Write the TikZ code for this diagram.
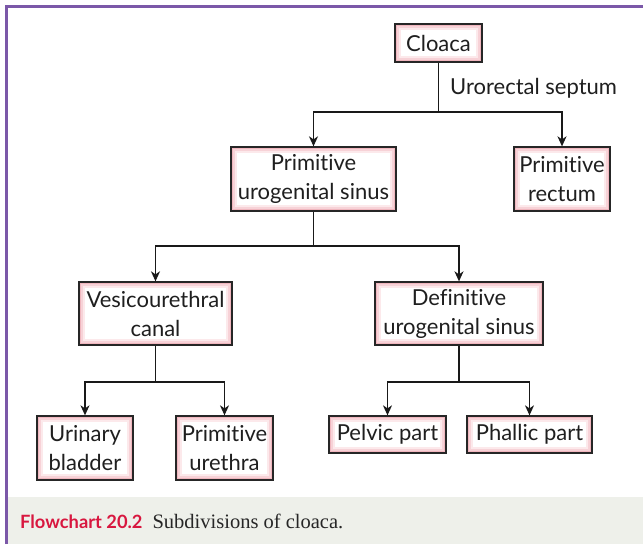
\documentclass[tikz,border=0pt]{standalone}
\usepackage{fontspec}
\setmainfont{Liberation Serif}
\newfontfamily\boxfont[Ligatures=NoCommon]{Lato}
\usetikzlibrary{arrows.meta}
\definecolor{pinkA}{HTML}{F0B6BE}
\definecolor{pinkB}{HTML}{F7D2D7}
\definecolor{pinkC}{HTML}{FCE9EB}
\definecolor{frame}{HTML}{7B58A8}
\definecolor{capbg}{HTML}{EEF0EA}
\definecolor{capred}{HTML}{D8173F}
\tikzset{
  flowbox/.style={draw=black!85, line width=1.3pt, fill=pinkA, inner sep=0pt,
    align=center, font=\boxfont\fontsize{22}{29}\selectfont, text=black!88,
    path picture={
      \fill[pinkB] ([shift={(2pt,-2pt)}]path picture bounding box.north west) rectangle ([shift={(-2pt,2pt)}]path picture bounding box.south east);
      \fill[pinkC] ([shift={(4pt,-4pt)}]path picture bounding box.north west) rectangle ([shift={(-4pt,4pt)}]path picture bounding box.south east);
      \fill[white] ([shift={(6pt,-6pt)}]path picture bounding box.north west) rectangle ([shift={(-6pt,6pt)}]path picture bounding box.south east);
    }},
  conn/.style={line width=1.3pt, black!90},
  arr/.style={conn, -{Stealth[length=10pt,width=9pt,inset=3pt]}}
}
\begin{document}
\begin{tikzpicture}[x=1pt,y=-1pt]
\useasboundingbox (0,0) rectangle (643,544);
\fill[white] (0,0) rectangle (643,544);
\fill[capbg] (8,497) rectangle (643,544);
\draw[frame, line width=3pt] (6.5,544) -- (6.5,6.5) -- (643,6.5);
% nodes
\node[flowbox, minimum width=87pt, minimum height=38pt] (cloaca) at (438.5,43) {Cloaca};
\node[flowbox, minimum width=165pt, minimum height=64pt] (pus) at (313.5,179) {Primitive\\urogenital sinus};
\node[flowbox, minimum width=96pt, minimum height=64pt] (rect) at (562,179) {Primitive\\rectum};
\node[flowbox, minimum width=153pt, minimum height=63pt] (vc) at (155.5,313.5) {Vesicourethral\\canal};
\node[flowbox, minimum width=168pt, minimum height=63pt] (dus) at (459,313.5) {Definitive\\urogenital sinus};
\node[flowbox, minimum width=96pt, minimum height=64pt] (ub) at (85,448) {Urinary\\bladder};
\node[flowbox, minimum width=97pt, minimum height=64pt] (pu) at (224.5,448) {Primitive\\urethra};
\node[flowbox, minimum width=117pt, minimum height=37pt] (pelvic) at (387.5,434.5) {Pelvic part};
\node[flowbox, minimum width=125pt, minimum height=37pt] (phallic) at (529.5,434.5) {Phallic part};
\node[anchor=west, font=\boxfont\fontsize{22}{29}\selectfont, text=black!88, inner sep=0pt] (uro) at (450,88) {Urorectal septum};
% connectors
\draw[conn] (cloaca.south) -- (cloaca.south |- 0,112) coordinate (j1);
\draw[arr] (j1) -| (pus.north);
\draw[arr] (j1) -| (rect.north);
\draw[conn] (pus.south) -- (pus.south |- 0,246) coordinate (j2);
\draw[arr] (j2) -| (vc.north);
\draw[arr] (j2) -| (dus.north);
\draw[conn] (vc.south) -- (vc.south |- 0,382) coordinate (j3);
\draw[arr] (j3) -| (ub.north);
\draw[arr] (j3) -| (pu.north);
\draw[conn] (dus.south) -- (dus.south |- 0,382) coordinate (j4);
\draw[arr] (j4) -| (pelvic.north);
\draw[arr] (j4) -| (phallic.north);
% caption
\node[anchor=base west, inner sep=0pt] (cap) at (20,528) {{\boxfont\bfseries\fontsize{18.3}{22}\selectfont\color{capred}Flowchart 20.2}\hspace{10pt}{\fontsize{20.5}{22}\selectfont\color{black!85}Subdivisions of cloaca.}};
\end{tikzpicture}
\end{document}
